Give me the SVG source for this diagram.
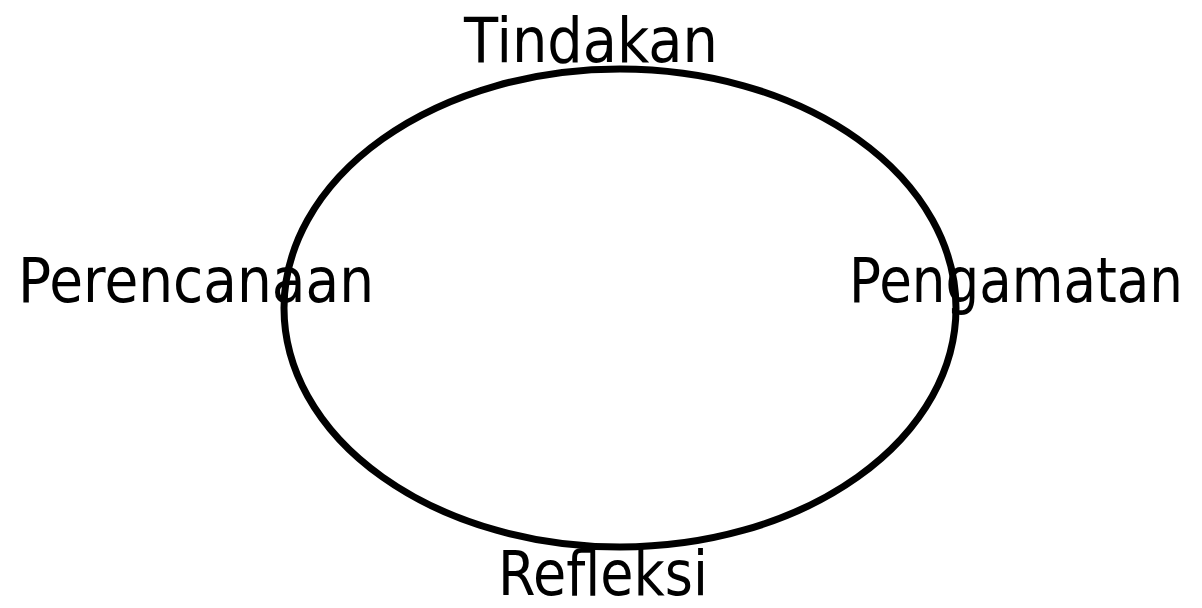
<svg xmlns="http://www.w3.org/2000/svg" width="1202" height="608" viewBox="0 0 1202 608">
<style>
.lbl{font-family:"DejaVu Sans",sans-serif;font-size:62px;fill:#000}
.ring{fill:none;stroke:#000;stroke-width:7}
</style>
<rect width="1202" height="608" fill="#fff"/>
<g id="connectors">
<ellipse class="ring" cx="620" cy="308" rx="336" ry="239"/>
</g>
<g id="tindakan"><text class="lbl" x="464" y="62" textLength="254" lengthAdjust="spacingAndGlyphs">Tindakan</text></g>
<g id="perencanaan"><text class="lbl" x="18" y="302" textLength="356" lengthAdjust="spacingAndGlyphs">Perencanaan</text></g>
<g id="pengamatan"><text class="lbl" x="849" y="302" font-size="61" textLength="334" lengthAdjust="spacingAndGlyphs">Pengamatan</text></g>
<g id="refleksi"><text class="lbl" x="498" y="595" font-size="60" textLength="210" lengthAdjust="spacingAndGlyphs">Refleksi</text></g>
</svg>
